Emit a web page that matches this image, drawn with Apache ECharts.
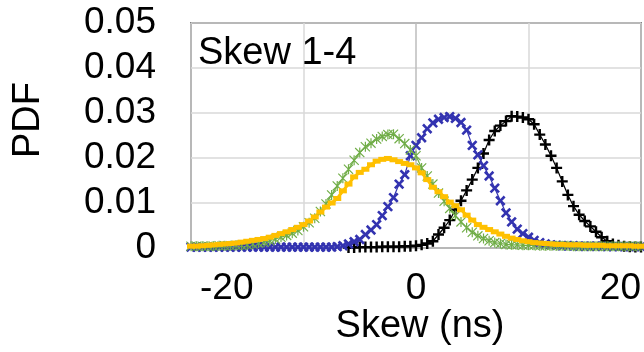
<!DOCTYPE html>
<html>
<head>
<meta charset="utf-8">
<script src="https://cdn.jsdelivr.net/npm/echarts@6/dist/echarts.min.js"></script>
<style>
  html, body { margin: 0; padding: 0; background: #fff; }
  #chart { width: 644px; height: 352px; }
</style>
</head>
<body>
<div id="chart"></div>
<script>
// skew in ns, shared by all four curves
const skew = [
  -20, -19.5, -19, -18.5, -18, -17.5, -17, -16.5, -16, -15.5,
  -15, -14.5, -14, -13.5, -13, -12.5, -12, -11.5, -11, -10.5,
  -10, -9.5, -9, -8.5, -8, -7.5, -7, -6.5, -6, -5.5,
  -5, -4.5, -4, -3.5, -3, -2.5, -2, -1.5, -1, -0.5,
  0, 0.5, 1, 1.5, 2, 2.5, 3, 3.5, 4, 4.5,
  5, 5.5, 6, 6.5, 7, 7.5, 8, 8.5, 9, 9.5,
  10, 10.5, 11, 11.5, 12, 12.5, 13, 13.5, 14, 14.5,
  15, 15.5, 16, 16.5, 17, 17.5, 18, 18.5, 19, 19.5, 20,
];

const pdfBlack = [
  null, null, null, null, null, null, null, null, null, null,
  null, null, null, null, null, null, null, null, null, null,
  null, null, null, null, null, null, null, null, 0.0001, 0.0001,
  0.0002, 0.0002, 0.0002, 0.0002, 0.0003, 0.0003, 0.0003, 0.0003, 0.0004, 0.0004,
  0.0005, 0.0007, 0.001, 0.0015, 0.003, 0.0045, 0.0062, 0.0085, 0.0105, 0.0128,
  0.0152, 0.0178, 0.021, 0.024, 0.026, 0.0272, 0.0282, 0.0293, 0.0292, 0.029,
  0.0286, 0.0275, 0.0252, 0.023, 0.0205, 0.0178, 0.0148, 0.0118, 0.0093, 0.0074,
  0.006, 0.0048, 0.0036, 0.0024, 0.0015, 0.0009, 0.0006, 0.0004, 0.0003, 0.0002, 0.0002,
];

const pdfBlue = [
  0.0002, 0.0002, 0.0002, 0.0002, 0.0002, 0.0002, 0.0002, 0.0002, 0.0002, 0.0002,
  0.0002, 0.0002, 0.0002, 0.0002, 0.0002, 0.0002, 0.0002, 0.0002, 0.0002, 0.0002,
  0.0002, 0.0002, 0.0002, 0.0002, 0.0002, 0.0002, 0.0003, 0.0005, 0.0009, 0.0014,
  0.0019, 0.003, 0.004, 0.0052, 0.0072, 0.0092, 0.0112, 0.0142, 0.0163, 0.0205,
  0.0228, 0.0245, 0.0265, 0.0278, 0.0286, 0.029, 0.0292, 0.0288, 0.0279, 0.0262,
  0.0228, 0.0207, 0.0183, 0.016, 0.0133, 0.0105, 0.0078, 0.0058, 0.0042, 0.0032,
  0.0024, 0.0017, 0.0012, 0.0009, 0.0007, 0.0006, 0.0005, 0.0005, 0.0005, 0.0004,
  0.0004, 0.0004, 0.0004, 0.0004, 0.0003, 0.0003, 0.0003, 0.0003, 0.0003, 0.0003, 0.0003,
];

const pdfGreen = [
  0.0004, 0.0004, 0.0004, 0.0004, 0.0004, 0.0005, 0.0005, 0.0005, 0.0006, 0.0006,
  0.0007, 0.0009, 0.0011, 0.0013, 0.0016, 0.002, 0.0024, 0.0028, 0.0033, 0.0039,
  0.0047, 0.0056, 0.0066, 0.0081, 0.0098, 0.0118, 0.0138, 0.0155, 0.0175, 0.0195,
  0.0212, 0.0225, 0.0233, 0.0242, 0.0248, 0.0252, 0.0253, 0.0243, 0.0232, 0.0218,
  0.0205, 0.0178, 0.016, 0.0142, 0.0122, 0.0104, 0.0088, 0.0072, 0.0058, 0.0045,
  0.0035, 0.0027, 0.0021, 0.0016, 0.0012, 0.001, 0.0008, 0.0007, 0.0007, 0.0006,
  0.0006, 0.0006, 0.0005, 0.0005, 0.0005, 0.0005, 0.0005, 0.0005, 0.0004, 0.0004,
  0.0004, 0.0004, 0.0004, 0.0004, 0.0004, 0.0004, 0.0004, 0.0004, 0.0004, 0.0004, 0.0004,
];

const pdfYellow = [
  0.0004, 0.0004, 0.0005, 0.0006, 0.0007, 0.0008, 0.0009, 0.001, 0.0011, 0.0013,
  0.0015, 0.0017, 0.0019, 0.0021, 0.0024, 0.0028, 0.0032, 0.0036, 0.0041, 0.0046,
  0.0052, 0.006, 0.0069, 0.008, 0.0091, 0.01, 0.011, 0.0127, 0.0142, 0.0158,
  0.0168, 0.0175, 0.0185, 0.0193, 0.0197, 0.0199, 0.0196, 0.0192, 0.0188, 0.0185,
  0.0178, 0.0167, 0.0152, 0.0135, 0.0125, 0.0114, 0.0102, 0.0094, 0.0085, 0.0073,
  0.0062, 0.0052, 0.0046, 0.0041, 0.0036, 0.0031, 0.0026, 0.0022, 0.0019, 0.0016,
  0.0014, 0.0012, 0.0011, 0.001, 0.0009, 0.0008, 0.0008, 0.0007, 0.0007, 0.0007,
  0.0006, 0.0006, 0.0006, 0.0006, 0.0005, 0.0005, 0.0005, 0.0005, 0.0005, 0.0004, 0.0004,
];

const xTicks = [-20, 0, 20];

const FONT = '"Liberation Sans", Arial, sans-serif';
const PLUS = 'path://M3.9,0H6.1V3.9H10V6.1H6.1V10H3.9V6.1H0V3.9H3.9Z';
const STAR = 'path://M4.4,0H5.6V10H4.4Z M0.8,0L10,9.2L9.2,10L0,0.8Z M0,9.2L9.2,0L10,0.8L0.8,10Z';

function pairs(ys) {
  return skew.map((x, i) => [x, ys[i]]);
}

function curve(name, ys, color, symbol, size, extra) {
  return Object.assign({
    name,
    type: 'line',
    data: pairs(ys),
    symbol,
    symbolSize: size,
    showSymbol: true,
    clip: false,
    connectNulls: false,
    lineStyle: {color, width: 1.2},
    itemStyle: {color, borderWidth: 0},
    emphasis: {disabled: true},
  }, extra || {});
}

const chart = echarts.init(document.getElementById('chart'));
const option = {
  animation: false,
  grid: {
    left: 191,
    right: 1,
    top: 23,
    bottom: 104,
    show: true,
    borderColor: '#222',
    borderWidth: 1.5,
    backgroundColor: '#fff',
  },
  xAxis: {
    type: 'value',
    min: -20,
    max: 20,
    interval: 10,
    axisLine: {show: false},
    axisTick: {show: false},
    axisLabel: {
      color: '#000',
      fontSize: 37,
      fontFamily: FONT,
      margin: 22,
      alignMinLabel: 'left',
      alignMaxLabel: 'right',
      formatter: (v) => {
        if (!xTicks.includes(v)) {
          return '';
        }
        return v === -20 ? '{l|' + v + '}' : String(v);
      },
      rich: {
        l: {fontSize: 37, fontFamily: FONT, color: '#000', padding: [0, 0, 0, 9]},
      },
    },
    splitLine: {
      show: true,
      lineStyle: {
        color: ['#d9d9d9', '#d9d9d9', '#bdbdbd', '#d9d9d9', '#d9d9d9'],
        width: 1.5,
      },
    },
  },
  yAxis: {
    type: 'value',
    min: 0,
    max: 0.05,
    interval: 0.01,
    axisLine: {show: false},
    axisTick: {show: false},
    axisLabel: {
      color: '#000',
      fontSize: 37,
      fontFamily: FONT,
      margin: 35,
      formatter: (v) => (v === 0 ? '0' : v.toFixed(2)),
    },
    splitLine: {
      lineStyle: {color: '#d9d9d9', width: 1.5},
    },
  },
  graphic: [
    {
      type: 'text',
      x: 29,
      y: 120,
      rotation: Math.PI / 2,
      style: {
        text: 'PDF',
        fill: '#000',
        font: '38px ' + FONT,
        textAlign: 'center',
        textVerticalAlign: 'middle',
      },
    },
    {
      type: 'text',
      x: 420,
      y: 327,
      style: {
        text: 'Skew (ns)',
        fill: '#000',
        font: '38px ' + FONT,
        textAlign: 'center',
        textVerticalAlign: 'middle',
      },
    },
    {
      type: 'text',
      x: 198,
      y: 54,
      z: 100,
      style: {
        text: 'Skew 1-4',
        fill: '#000',
        font: '38px ' + FONT,
        textAlign: 'left',
        textVerticalAlign: 'middle',
      },
    },
  ],
  series: [
    curve('Skew 1', pdfBlack, '#000000', PLUS, 11),
    curve('Skew 2', pdfBlue, '#3333b0', PLUS, 12, {symbolRotate: 45}),
    curve('Skew 3', pdfGreen, '#70ad47', STAR, 10),
    curve('Skew 4', pdfYellow, '#ffc000', 'rect', [8, 5], {
      lineStyle: {color: '#ffc000', width: 3},
    }),
  ],
};
chart.setOption(option);
</script>
</body>
</html>
